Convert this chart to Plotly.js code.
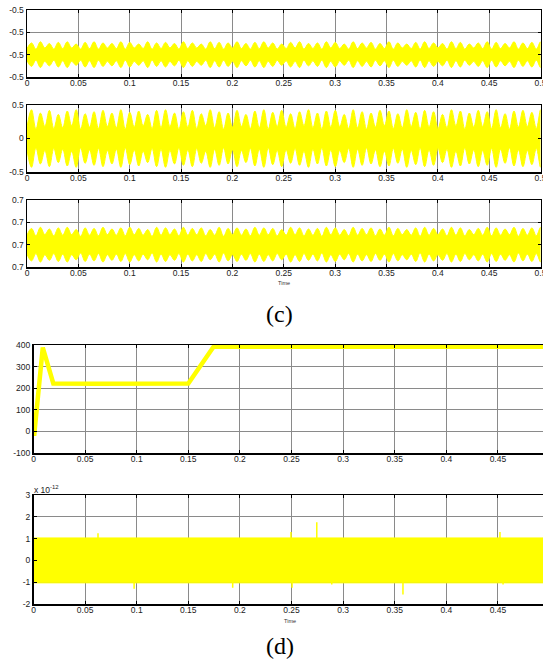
<!DOCTYPE html>
<html><head><meta charset="utf-8">
<script src="https://cdn.plot.ly/plotly-3.0.1.min.js"></script>
<style>html,body{margin:0;padding:0;background:#fff;}#chart{width:543px;height:664px;}</style>
</head><body><div id="chart"></div>
<script>
// ---------- DATA ----------
// (c) panels: sample times of the envelope (alternating neck / lobe peak)
const envT = [
0, 0.0044, 0.0087, 0.0131, 0.0174, 0.0218, 0.0261, 0.0305, 0.0348, 0.0392,
0.0435, 0.0479, 0.0522, 0.0566, 0.0609, 0.0653, 0.0696, 0.0740, 0.0783, 0.0827,
0.0870, 0.0914, 0.0957, 0.1001, 0.1044, 0.1088, 0.1131, 0.1175, 0.1218, 0.1262,
0.1305, 0.1349, 0.1392, 0.1436, 0.1479, 0.1523, 0.1566, 0.1610, 0.1653, 0.1697,
0.1740, 0.1784, 0.1827, 0.1871, 0.1914, 0.1958, 0.2001, 0.2045, 0.2088, 0.2132,
0.2175, 0.2219, 0.2262, 0.2306, 0.2349, 0.2393, 0.2436, 0.2480, 0.2523, 0.2567,
0.2610, 0.2654, 0.2697, 0.2741, 0.2784, 0.2828, 0.2871, 0.2915, 0.2958, 0.3002,
0.3045, 0.3089, 0.3132, 0.3176, 0.3219, 0.3263, 0.3306, 0.3350, 0.3393, 0.3437,
0.3480, 0.3524, 0.3567, 0.3611, 0.3654, 0.3698, 0.3741, 0.3785, 0.3828, 0.3872,
0.3915, 0.3959, 0.4002, 0.4046, 0.4089, 0.4133, 0.4176, 0.4220, 0.4263, 0.4307,
0.4350, 0.4394, 0.4437, 0.4481, 0.4524, 0.4568, 0.4611, 0.4655, 0.4698, 0.4742,
0.4785, 0.4829, 0.4872, 0.4916, 0.4959, 0.5000];

// panel c1 : centre and half-widths (x 1e-3)
const c1Center = -0.501;
const c1Peak = [
1.05,1.15,1.00,1.10,1.15,0.95,1.10,1.15,1.05,1.00,
1.15,1.10,0.95,1.15,1.05,1.10,1.00,1.15,1.05,0.95,
1.15,1.10,1.05,1.15,1.00,1.10,1.15,1.05,0.95,1.10,
1.15,1.00,1.05,1.15,1.10,0.95,1.15,1.05,1.10,1.00,
1.15,1.05,0.95,1.10,1.15,1.05,1.00,1.15,1.10,0.95,
1.05,1.15,1.10,1.00,1.15,1.05,1.10,1.15];
const c1Neck = [
0.55,0.50,0.60,0.50,0.55,0.60,0.50,0.55,0.50,0.60,
0.55,0.50,0.60,0.55,0.50,0.55,0.60,0.50,0.55,0.60,
0.50,0.55,0.50,0.60,0.55,0.50,0.55,0.60,0.50,0.55,
0.60,0.50,0.55,0.50,0.60,0.55,0.50,0.55,0.60,0.50,
0.55,0.50,0.60,0.55,0.50,0.55,0.60,0.50,0.55,0.50,
0.60,0.55,0.50,0.55,0.60,0.50,0.55,0.50];

// panel c2 : centre and half-widths
const c2Center = 0;
const c2Peak = [
0.43,0.38,0.42,0.36,0.41,0.43,0.37,0.40,0.42,0.38,
0.43,0.39,0.41,0.36,0.42,0.43,0.38,0.40,0.42,0.37,
0.43,0.40,0.38,0.42,0.36,0.41,0.43,0.39,0.42,0.37,
0.40,0.43,0.38,0.41,0.42,0.36,0.43,0.40,0.38,0.42,
0.41,0.37,0.43,0.39,0.42,0.40,0.36,0.43,0.41,0.38,
0.42,0.40,0.43,0.37,0.41,0.42,0.39,0.43];
const c2Neck = [
0.17,0.14,0.18,0.15,0.16,0.19,0.14,0.17,0.15,0.18,
0.16,0.14,0.17,0.19,0.15,0.16,0.18,0.14,0.17,0.15,
0.19,0.16,0.14,0.17,0.18,0.15,0.16,0.14,0.18,0.17,
0.15,0.19,0.16,0.14,0.17,0.18,0.15,0.16,0.14,0.17,
0.19,0.15,0.16,0.18,0.14,0.17,0.15,0.16,0.19,0.14,
0.17,0.18,0.15,0.16,0.14,0.17,0.18,0.15];

// panel c3 : centre and half-widths (x 1e-3)
const c3Center = 0.699;
const c3Peak = [
1.45,1.55,1.40,1.50,1.55,1.35,1.50,1.45,1.55,1.40,
1.50,1.55,1.45,1.35,1.55,1.50,1.40,1.55,1.45,1.50,
1.35,1.55,1.45,1.50,1.40,1.55,1.50,1.45,1.35,1.55,
1.50,1.40,1.45,1.55,1.50,1.35,1.55,1.45,1.50,1.40,
1.55,1.45,1.35,1.50,1.55,1.45,1.40,1.55,1.50,1.35,
1.45,1.55,1.50,1.40,1.55,1.45,1.50,1.55];
const c3Neck = [
0.85,0.80,0.90,0.80,0.85,0.90,0.75,0.85,0.80,0.90,
0.85,0.80,0.90,0.85,0.75,0.85,0.90,0.80,0.85,0.90,
0.80,0.85,0.75,0.90,0.85,0.80,0.85,0.90,0.80,0.85,
0.90,0.80,0.85,0.75,0.90,0.85,0.80,0.85,0.90,0.80,
0.85,0.80,0.90,0.85,0.75,0.85,0.90,0.80,0.85,0.80,
0.90,0.85,0.80,0.85,0.90,0.75,0.85,0.80];

// panel d1 : line
const d1T = [0, 0.0006, 0.0090, 0.0192, 0.0600, 0.1000, 0.1500, 0.1745, 0.2500, 0.3500, 0.4937];
const d1V = [0, -20, 388, 222, 221, 222, 222, 392, 391, 392, 392];

// panel d2 : noise band (x 1e-12) and spikes
const d2T  = [0, 0.4937];
const d2Hi = [1.03, 1.03];
const d2Lo = [-1.03, -1.03];
const spikeT = [0.0625, 0.0975, 0.193, 0.2495, 0.2505, 0.2745, 0.289, 0.358, 0.452, 0.455];
const spikeV = [1.24, -1.30, -1.25, 1.30, -1.25, 1.75, -1.10, -1.56, 1.30, -1.10];

// tick labels
const xTickVals = [0,0.05,0.1,0.15,0.2,0.25,0.3,0.35,0.4,0.45,0.5];
const xTickText = ['0','0.05','0.1','0.15','0.2','0.25','0.3','0.35','0.4','0.45','0.5'];
const c1TickVals = [-0.503,-0.501,-0.499,-0.497];
const c1TickText = ['-0.5','-0.5','-0.5','-0.5'];
const c2TickVals = [-0.5,0,0.5];
const c2TickText = ['-0.5','0','0.5'];
const c3TickVals = [0.697,0.699,0.701,0.703];
const c3TickText = ['0.7','0.7','0.7','0.7'];
const d1TickVals = [-100,0,100,200,300,400];
const d1TickText = ['-100','0','100','200','300','400'];
const d2TickVals = [-2,-1,0,1,2,3];
const d2TickText = ['-2','-1','0','1','2','3'];

// ---------- BUILD ----------
const W = 543, H = 664;
const YEL = '#FFFF00';
function band(neck, peak, center, scale, xa, ya) {
  const up = [], lo = [];
  for (let i = 0; i < neck.length; i++) {
    up.push(center + neck[i]*scale, center + peak[i]*scale);
    lo.push(center - neck[i]*scale, center - peak[i]*scale);
  }
  return {
    x: envT.concat(envT.slice().reverse()),
    y: up.concat(lo.slice().reverse()),
    xaxis: xa, yaxis: ya, type: 'scatter', mode: 'lines',
    fill: 'toself', fillcolor: YEL,
    line: {color: YEL, width: 1, shape: 'spline', smoothing: 1.1},
    hoverinfo: 'skip'
  };
}
const traces = [
  band(c1Neck, c1Peak, c1Center, 1e-3, 'x', 'y'),
  band(c2Neck, c2Peak, c2Center, 1, 'x2', 'y2'),
  band(c3Neck, c3Peak, c3Center, 1e-3, 'x3', 'y3'),
  {x: d1T, y: d1V, xaxis: 'x4', yaxis: 'y4', type: 'scatter', mode: 'lines',
   line: {color: YEL, width: 4.5}},
  {x: d2T.concat(d2T.slice().reverse()), y: d2Hi.concat(d2Lo.slice().reverse()),
   xaxis: 'x5', yaxis: 'y5', type: 'scatter', mode: 'lines', fill: 'toself',
   fillcolor: YEL, line: {color: YEL, width: 1}}
];
const sx = [], sy = [];
spikeT.forEach((t, i) => { sx.push(t, t, null); sy.push(0, spikeV[i], null); });
traces.push({x: sx, y: sy, xaxis: 'x5', yaxis: 'y5', type: 'scatter', mode: 'lines',
  line: {color: YEL, width: 1.5}});

const tickFont = {family: 'Liberation Sans, Arial, sans-serif', size: 8.5, color: '#222'};
function ax(domain, range, vals, text, anchor, mirror, isX) {
  const a = {domain: domain, range: range, tickmode: 'array', tickvals: vals, ticktext: text,
    showline: true, linecolor: '#000', linewidth: 1.5, mirror: mirror,
    ticks: 'inside', ticklen: 3, tickcolor: '#000', tickwidth: 1,
    showgrid: true, gridcolor: '#8a8a8a', gridwidth: 1, zeroline: false,
    tickfont: tickFont, anchor: anchor, fixedrange: true,
    ticklabeloverflow: 'allow'};
  if (isX) a.ticklabelstandoff = -3;
  return a;
}
const cx = [27/W, 540.5/W], dx = [33.5/W, 1];
const yd = (top, bot) => [1 - bot/H, 1 - top/H];
const dRange = [0, 0.4937];
const layout = {
  width: W, height: H, margin: {l: 0, r: 0, t: 0, b: 0},
  paper_bgcolor: '#fff', plot_bgcolor: '#fff', showlegend: false,
  xaxis:  ax(cx, [0, 0.5], xTickVals, xTickText, 'y', 'ticks', true),
  yaxis:  ax(yd(10, 77), [-0.503, -0.497], c1TickVals, c1TickText, 'x', 'ticks'),
  xaxis2: ax(cx, [0, 0.5], xTickVals, xTickText, 'y2', 'ticks', true),
  yaxis2: ax(yd(105, 172), [-0.5, 0.5], c2TickVals, c2TickText, 'x2', 'ticks'),
  xaxis3: ax(cx, [0, 0.5], xTickVals, xTickText, 'y3', 'ticks', true),
  yaxis3: ax(yd(200, 267), [0.697, 0.703], c3TickVals, c3TickText, 'x3', 'ticks'),
  xaxis4: ax(dx, dRange, xTickVals, xTickText, 'y4', 'ticks', true),
  yaxis4: ax(yd(345, 453), [-100, 400], d1TickVals, d1TickText, 'x4', false),
  xaxis5: ax(dx, dRange, xTickVals, xTickText, 'y5', 'ticks', true),
  yaxis5: ax(yd(495, 604), [-2, 3], d2TickVals, d2TickText, 'x5', false),
  annotations: [
    {text: 'Time', x: 283.5/W, y: 1 - 282.5/H, xref: 'paper', yref: 'paper', showarrow: false,
     xanchor: 'center', yanchor: 'middle', font: {family: 'Liberation Sans, Arial', size: 5.5, color: '#333'}},
    {text: 'Time', x: 290/W, y: 1 - 620.5/H, xref: 'paper', yref: 'paper', showarrow: false,
     xanchor: 'center', yanchor: 'middle', font: {family: 'Liberation Sans, Arial', size: 5.5, color: '#333'}},
    {text: '(c)', x: 279/W, y: 1 - 314/H, xref: 'paper', yref: 'paper', showarrow: false,
     xanchor: 'center', yanchor: 'middle', font: {family: 'Liberation Serif, Times New Roman, serif', size: 24, color: '#000'}},
    {text: '(d)', x: 280/W, y: 1 - 646/H, xref: 'paper', yref: 'paper', showarrow: false,
     xanchor: 'center', yanchor: 'middle', font: {family: 'Liberation Serif, Times New Roman, serif', size: 24, color: '#000'}},
    {text: 'x 10<sup>-12</sup>', x: 32/W, y: 1 - 489/H, xref: 'paper', yref: 'paper', showarrow: false,
     xanchor: 'left', yanchor: 'middle', font: {family: 'Liberation Sans, Arial', size: 8.5, color: '#222'}}
  ]
};
Plotly.newPlot('chart', traces, layout, {staticPlot: true, displayModeBar: false});
</script></body></html>
